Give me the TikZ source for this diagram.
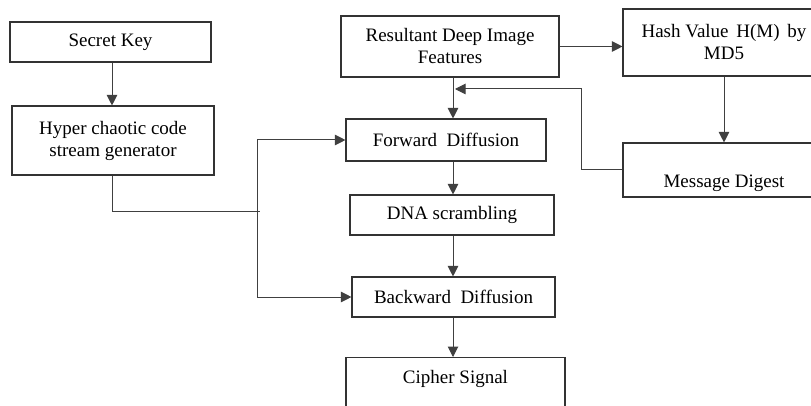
\documentclass[tikz,border=0pt]{standalone}
\usepackage{fontspec}
\setmainfont{Liberation Serif}
\usetikzlibrary{arrows.meta}

\begin{document}
\begin{tikzpicture}[x=1pt, y=-1pt,
    every node/.style={font=\fontsize{19}{22}\selectfont},
    box/.style={draw=black!80, line width=1.1pt, inner sep=0pt, align=center},
    arr/.style={draw=black!75, line width=1pt, -{Triangle[length=10.5pt,width=10.5pt]}}]
  \clip (0,0) rectangle (811,406);
  \fill[white] (0,0) rectangle (811,406);
  % boxes
  \node[box, minimum width=201pt, minimum height=40pt] (key) at (110.5,42) {Secret Key};
  \node[box, minimum width=202pt, minimum height=69pt] (hyper) at (113,140.5) {Hyper chaotic code\\stream generator};
  \node[box, minimum width=218pt, minimum height=61pt] (feat) at (450,46.5) {Resultant Deep Image\\Features};
  \node[box, minimum width=202pt, minimum height=67pt] (hash) at (724,42.5) {Hash Value\hspace{3pt} H(M)\hspace{3pt} by\\MD5};
  \node[box, minimum width=202pt, text height=42pt, text depth=6pt, inner ysep=3pt] (digest) at (724,170) {Message Digest};
  \node[box, minimum width=200pt, minimum height=42pt] (fwd) at (446,140) {Forward~~Diffusion};
  \node[box, minimum width=204pt, minimum height=40pt] (dna) at (452,215) {DNA scrambling};
  \node[box, minimum width=203pt, minimum height=40pt] (back) at (453.5,297) {Backward~~Diffusion};
  \node[box, minimum width=219pt, text height=14pt, text depth=35pt, inner ysep=12pt, anchor=north] (cipher) at (455.5,357) {Cipher Signal};
  % helper points
  \coordinate (bus) at (257,212);
  \coordinate (join) at (260,212);
  \coordinate (tip) at (455,89);
  \coordinate (col) at (453,89);
  \coordinate (bend) at (581,89);
  % connectors
  \draw[arr] (key.south -| 112,0) -- (hyper.north -| 112,0);
  \draw[draw=black!75, line width=1pt] (hyper.south -| 112,0) |- (join);
  \draw[arr] (bus) |- (fwd.west);
  \draw[arr] (bus) |- (back.west);
  \draw[arr] (feat.south -| col) -- (fwd.north -| col);
  \draw[arr] (fwd.south -| col) -- (dna.north -| col);
  \draw[arr] (dna.south -| col) -- (back.north -| col);
  \draw[arr] (back.south -| col) -- (cipher.north -| col);
  \draw[arr] (feat.east) -- (feat.east -| hash.west);
  \draw[arr] (hash.south) -- (digest.north);
  \draw[arr] (digest.west) -| (bend) -- (tip);
\end{tikzpicture}
\end{document}
